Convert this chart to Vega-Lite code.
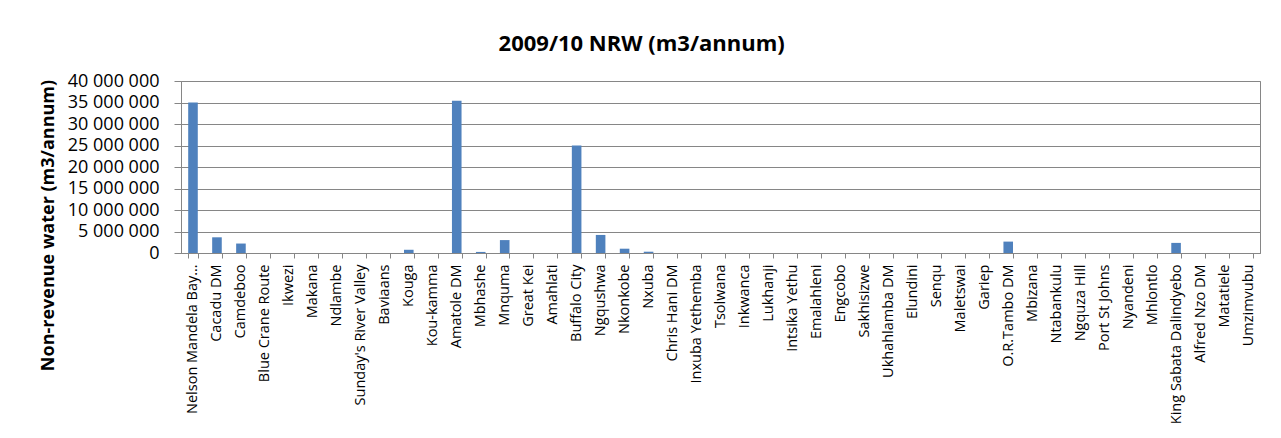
{
  "$schema": "https://vega.github.io/schema/vega-lite/v6.json",
  "autosize": {"type": "none"},
  "width": 1079,
  "height": 172,
  "padding": {"left": 181, "top": 81, "right": 21, "bottom": 185},
  "background": "white",
  "title": {
    "text": "2009/10 NRW (m3/annum)",
    "anchor": "middle",
    "frame": "bounds",
    "font": "Open Sans",
    "fontSize": 22,
    "fontWeight": "bold",
    "color": "black",
    "offset": 16,
    "dx": -8
  },
  "data": {
    "values": [
      {"municipality": "Nelson Mandela Bay Metro", "nrw": 35000000},
      {"municipality": "Cacadu DM", "nrw": 3650000},
      {"municipality": "Camdeboo", "nrw": 2200000},
      {"municipality": "Blue Crane Route", "nrw": 0},
      {"municipality": "Ikwezi", "nrw": 0},
      {"municipality": "Makana", "nrw": 0},
      {"municipality": "Ndlambe", "nrw": 0},
      {"municipality": "Sunday's River Valley", "nrw": 0},
      {"municipality": "Baviaans", "nrw": 0},
      {"municipality": "Kouga", "nrw": 750000},
      {"municipality": "Kou-kamma", "nrw": 0},
      {"municipality": "Amatole DM", "nrw": 35400000},
      {"municipality": "Mbhashe", "nrw": 250000},
      {"municipality": "Mnquma", "nrw": 3000000},
      {"municipality": "Great Kei", "nrw": 0},
      {"municipality": "Amahlati", "nrw": 0},
      {"municipality": "Buffalo City", "nrw": 25000000},
      {"municipality": "Ngqushwa", "nrw": 4200000},
      {"municipality": "Nkonkobe", "nrw": 1000000},
      {"municipality": "Nxuba", "nrw": 300000},
      {"municipality": "Chris Hani DM", "nrw": 0},
      {"municipality": "Inxuba Yethemba", "nrw": 0},
      {"municipality": "Tsolwana", "nrw": 0},
      {"municipality": "Inkwanca", "nrw": 0},
      {"municipality": "Lukhanji", "nrw": 0},
      {"municipality": "Intsika Yethu", "nrw": 0},
      {"municipality": "Emalahleni", "nrw": 0},
      {"municipality": "Engcobo", "nrw": 0},
      {"municipality": "Sakhisizwe", "nrw": 0},
      {"municipality": "Ukhahlamba DM", "nrw": 0},
      {"municipality": "Elundini", "nrw": 0},
      {"municipality": "Senqu", "nrw": 0},
      {"municipality": "Maletswai", "nrw": 0},
      {"municipality": "Gariep", "nrw": 0},
      {"municipality": "O.R.Tambo DM", "nrw": 2650000},
      {"municipality": "Mbizana", "nrw": 0},
      {"municipality": "Ntabankulu", "nrw": 0},
      {"municipality": "Ngquza Hill", "nrw": 0},
      {"municipality": "Port St Johns", "nrw": 0},
      {"municipality": "Nyandeni", "nrw": 0},
      {"municipality": "Mhlontlo", "nrw": 0},
      {"municipality": "King Sabata Dalindyebo", "nrw": 2350000},
      {"municipality": "Alfred Nzo DM", "nrw": 0},
      {"municipality": "Matatiele", "nrw": 0},
      {"municipality": "Umzimvubu", "nrw": 0}
    ]
  },
  "mark": {"type": "bar", "color": "#4F81BD"},
  "encoding": {
    "x": {
      "field": "municipality",
      "type": "nominal",
      "sort": null,
      "title": null,
      "scale": {"paddingInner": 0.6, "paddingOuter": 0.3},
      "axis": {
        "labelAngle": -90,
        "labelFont": "Open Sans",
        "labelFontSize": 14.5,
        "labelColor": "black",
        "labelPadding": 6,
        "labelExpr": "length(datum.label) > 22 ? 'Nelson Mandela Bay…' : datum.label",
        "labelLimit": 220,
        "tickBand": "extent",
        "tickSize": 5,
        "tickColor": "#868686",
        "domainColor": "#868686",
        "grid": false
      }
    },
    "y": {
      "field": "nrw",
      "type": "quantitative",
      "title": "Non-revenue water (m3/annum)",
      "scale": {"domain": [0, 40000000], "nice": false},
      "axis": {
        "values": [0, 5000000, 10000000, 15000000, 20000000, 25000000, 30000000, 35000000, 40000000],
        "format": ",d",
        "labelFont": "Open Sans",
        "labelFontSize": 18,
        "labelColor": "black",
        "labelPadding": 15,
        "tickSize": 7,
        "tickColor": "#868686",
        "domainColor": "#868686",
        "gridColor": "#868686",
        "gridWidth": 1,
        "titleFont": "Open Sans",
        "titleFontSize": 18,
        "titleFontWeight": "bold",
        "titleColor": "black",
        "titlePadding": 10,
        "titleY": 144
      }
    }
  },
  "config": {
    "locale": {"number": {"decimal": ",", "thousands": " ", "grouping": [3], "currency": ["", ""]}},
    "view": {"stroke": "#868686"}
  }
}
